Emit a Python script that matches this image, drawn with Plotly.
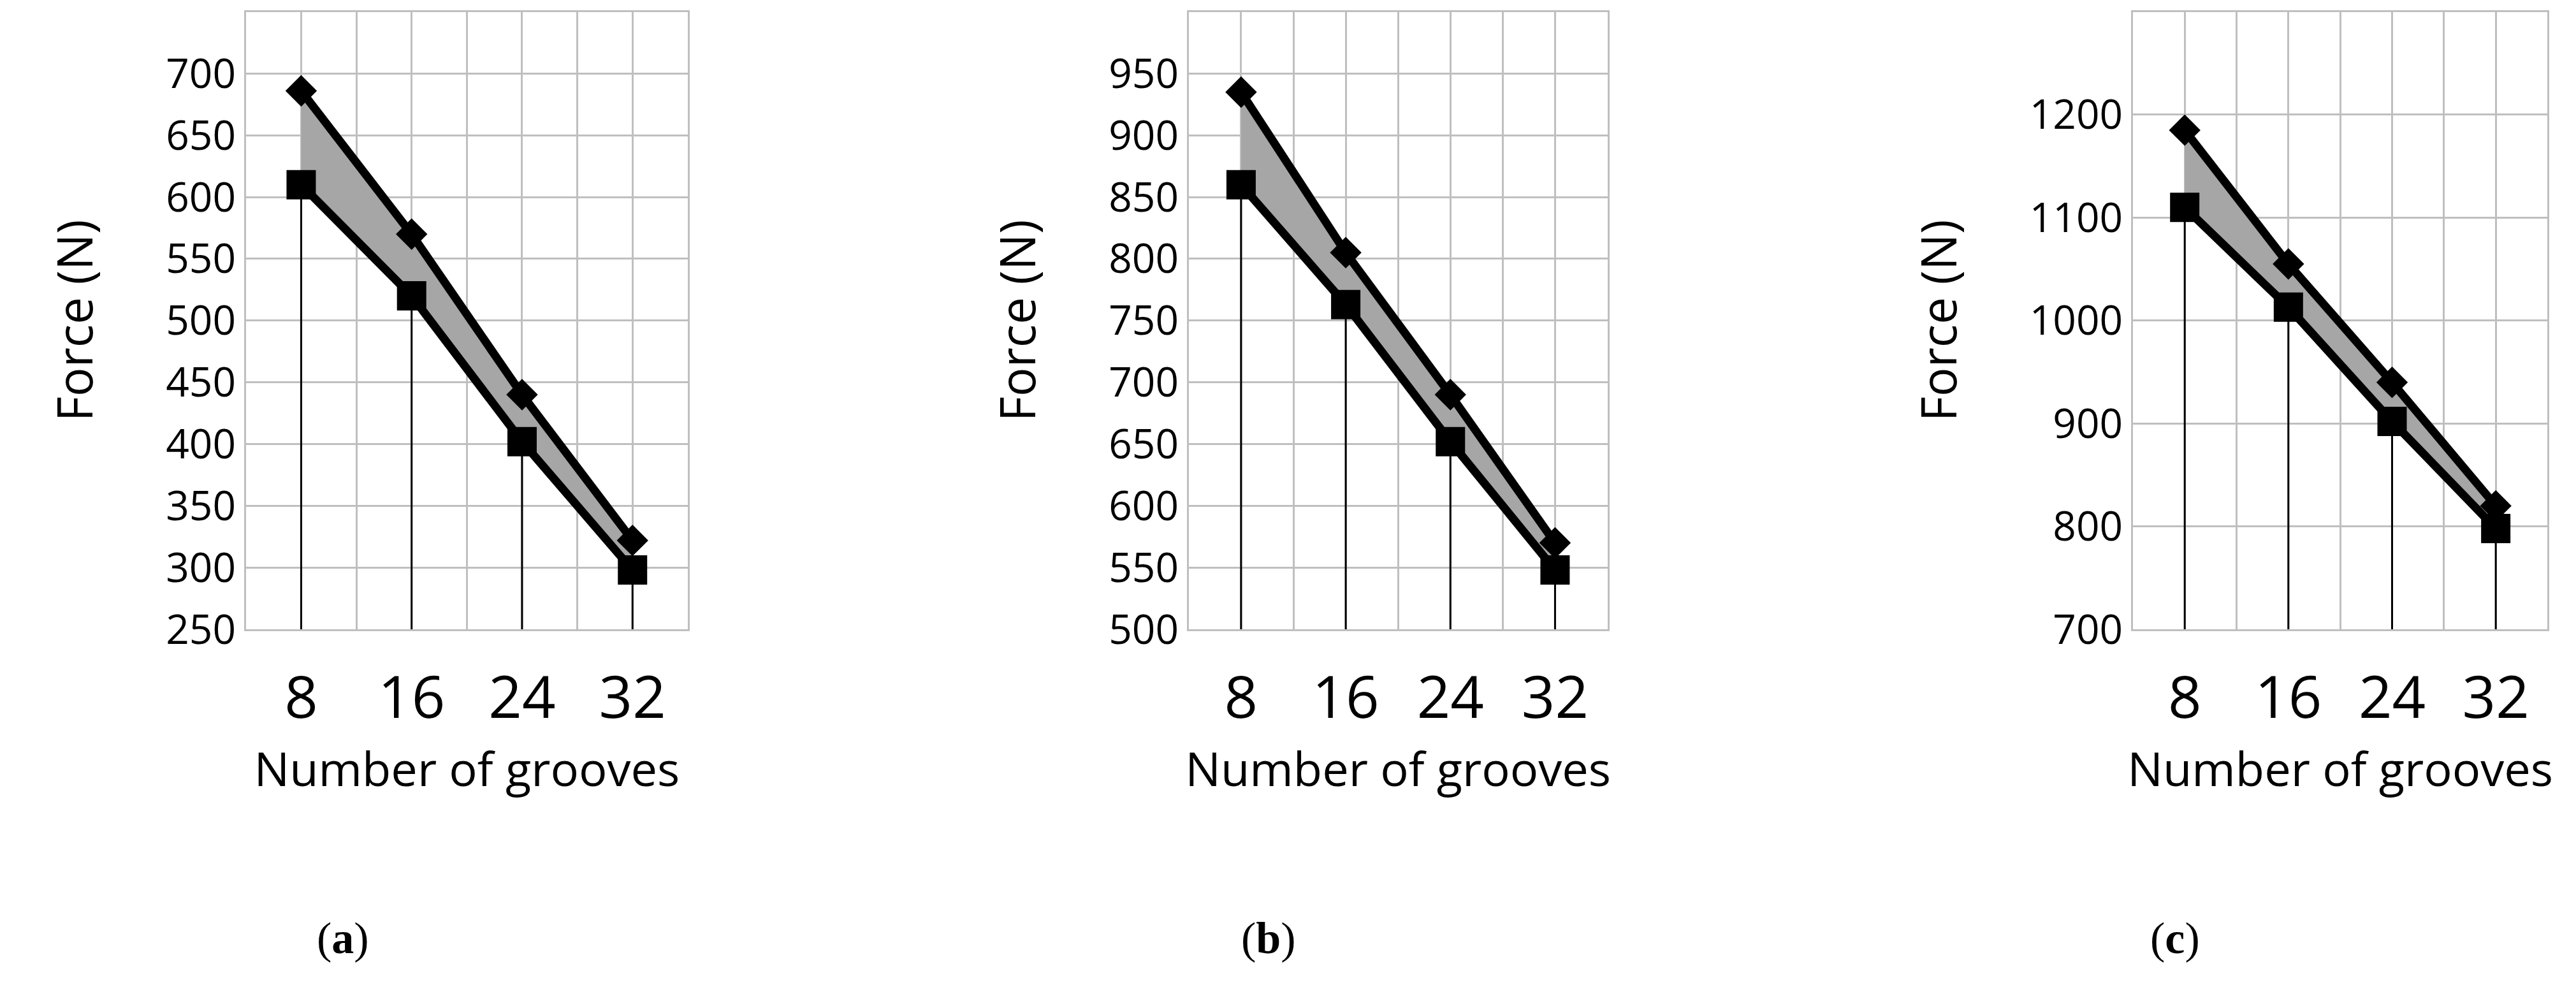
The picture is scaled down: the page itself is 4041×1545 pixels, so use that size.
import plotly.graph_objects as go

categories = ["8", "16", "24", "32"]
upper_a = [686, 570, 440, 322]
lower_a = [610, 520, 402, 298]
upper_b = [935, 805, 690, 570]
lower_b = [860, 763, 652, 548]
upper_c = [1185, 1055, 940, 820]
lower_c = [1110, 1013, 902, 798]
ranges = [(250, 750, 50), (500, 1000, 50), (700, 1300, 100)]
labels = ["a", "b", "c"]

panels = [(upper_a, lower_a), (upper_b, lower_b), (upper_c, lower_c)]
xdoms = [(0.0935, 0.2650), (0.4595, 0.6220), (0.8260, 0.9870)]
ydom = (0.349, 0.993)

fig = go.Figure()
grid = "#bfbfbf"
font = "Open Sans"
for k, ((up, lo), (ymin, ymax, dt)) in enumerate(zip(panels, ranges)):
    ax = "" if k == 0 else str(k + 1)
    xs = list(range(len(categories)))
    dx, dy = [], []
    for i, v in zip(xs, lo):
        dx += [i, i, None]
        dy += [ymin, v, None]
    fig.add_trace(go.Scatter(x=dx, y=dy, mode="lines", line=dict(color="black", width=3),
                             xaxis="x" + ax, yaxis="y" + ax, showlegend=False, hoverinfo="skip"))
    fig.add_trace(go.Scatter(x=xs, y=lo, mode="lines+markers", line=dict(color="black", width=13),
                             marker=dict(symbol="square", size=46, color="black"),
                             xaxis="x" + ax, yaxis="y" + ax, showlegend=False))
    fig.add_trace(go.Scatter(x=xs, y=up, mode="lines+markers", line=dict(color="black", width=13),
                             marker=dict(symbol="diamond", size=38, color="black"),
                             fill="tonexty", fillcolor="#a6a6a6",
                             xaxis="x" + ax, yaxis="y" + ax, showlegend=False))
    tv = [i * 0.5 - 0.5 for i in range(9)]
    tt = [categories[int(v)] if v == int(v) and 0 <= v <= 3 else "" for v in tv]
    fig.layout["xaxis" + ax] = dict(domain=xdoms[k], anchor="y" + ax, range=[-0.5, 3.5],
        tickvals=tv, ticktext=tt, showgrid=True, gridcolor=grid, gridwidth=3,
        showline=True, linecolor=grid, linewidth=3, mirror=True, ticks="", zeroline=False,
        tickfont=dict(family=font, size=92, color="black"), ticklabelstandoff=25,
        title=dict(text="Number of grooves", font=dict(family=font, size=74, color="black"), standoff=30))
    fig.layout["yaxis" + ax] = dict(domain=ydom, anchor="x" + ax, range=[ymin, ymax], dtick=dt,
        tick0=ymin, showgrid=True, gridcolor=grid, gridwidth=3, showline=True, linecolor=grid,
        linewidth=3, mirror=True, ticks="", zeroline=False,
        tickfont=dict(family=font, size=64, color="black"),
        title=dict(text="Force (N)", font=dict(family=font, size=76, color="black"), standoff=90))
    fig.add_annotation(text="(<b>" + labels[k] + "</b>)", x=[0.1205, 0.4905, 0.8525][k], y=0.0,
                       xref="paper", yref="paper", yanchor="bottom", showarrow=False,
                       font=dict(family="Liberation Serif", size=70, color="black"))

fig.update_layout(width=4041, height=1545, margin=dict(l=0, r=0, t=0, b=0),
                  plot_bgcolor="white", paper_bgcolor="white")
fig.write_html("out.html")
